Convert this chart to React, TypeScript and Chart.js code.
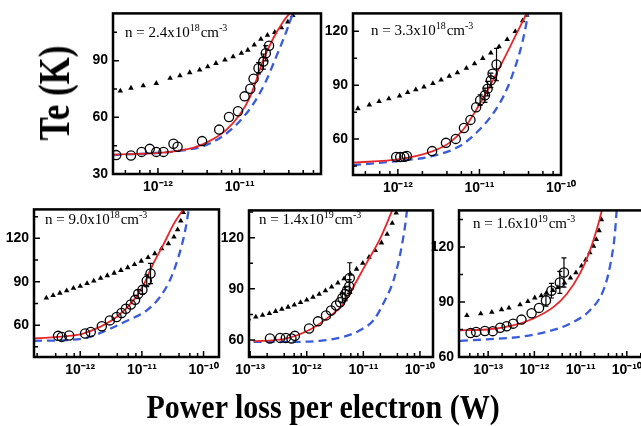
import React, { useEffect, useRef } from 'react';
import { Chart, registerables } from 'chart.js';
Chart.register(...registerables);

// ---------- Panel 1 : n = 2.4x10^18 ----------
const p1TriP = [3.47e-13, 4.68e-13, 6.61e-13, 9.55e-13, 1.41e-12, 1.86e-12, 2.45e-12, 3.24e-12, 4.07e-12, 5.13e-12, 6.61e-12, 8.32e-12, 1.05e-11, 1.26e-11, 1.51e-11, 1.82e-11, 2.19e-11, 2.69e-11, 3.24e-11, 3.89e-11, 4.47e-11];
const p1TriT = [74, 75.5, 76.8, 78, 80.7, 82, 83.7, 85.1, 86.8, 88.6, 90.4, 92.1, 93.9, 95.6, 98.3, 101.4, 103.5, 105, 107.5, 110.5, 114];
const p1CirP = [3.09e-13, 4.68e-13, 6.31e-13, 7.94e-13, 9.55e-13, 1.17e-12, 1.55e-12, 1.74e-12, 3.47e-12, 5.62e-12, 7.41e-12, 9.55e-12, 1.15e-11, 1.35e-11, 1.48e-11, 1.70e-11, 1.95e-11, 2.09e-11, 2.29e-11];
const p1CirT = [40.0, 39.8, 41.7, 43.3, 41.7, 41.7, 46.0, 44.4, 47.4, 53.5, 60.2, 63.2, 71.1, 75.1, 80.4, 86.0, 89.5, 93.9, 97.9];
const p1CirErr = [0, 0, 0, 0, 0, 0, 0, 0, 0, 0, 0, 0, 0, 0, 0, 3, 4, 4, 0];
const p1RedP = [2.82e-13, 1.05e-12, 2.69e-12, 4.27e-12, 6.92e-12, 1.0e-11, 1.32e-11, 1.58e-11, 1.91e-11, 2.57e-11, 3.39e-11, 4.07e-11];
const p1RedT = [40.3, 41.2, 43.8, 47.4, 53.5, 61.4, 70.2, 79, 89.5, 101.7, 110.5, 115];
const p1BluP = [2.82e-13, 1.70e-12, 3.55e-12, 5.75e-12, 9.12e-12, 1.45e-11, 2.09e-11, 2.75e-11, 3.72e-11, 4.47e-11];
const p1BluT = [40, 42.1, 44.7, 49.1, 56.1, 66.7, 79, 91.2, 105.3, 115];

// ---------- Panel 2 : n = 3.3x10^18 ----------
const p2TriP = [3.24e-13, 4.47e-13, 5.89e-13, 7.76e-13, 1.05e-12, 1.32e-12, 1.66e-12, 2.09e-12, 2.69e-12, 3.39e-12, 4.27e-12, 5.37e-12, 6.92e-12, 8.71e-12, 1.10e-11, 1.38e-11, 1.74e-11, 2.19e-11, 2.75e-11, 3.39e-11, 3.80e-11];
const p2TriT = [77, 79, 81, 82.5, 84, 86, 87.5, 89, 91, 93, 95, 97, 99.5, 102, 105, 108, 111.5, 115.5, 120, 126, 129];
const p2CirP = [9.55e-13, 1.07e-12, 1.20e-12, 1.29e-12, 2.63e-12, 3.89e-12, 5.13e-12, 6.46e-12, 7.76e-12, 9.12e-12, 1.02e-11, 1.17e-11, 1.26e-11, 1.38e-11, 1.45e-11, 1.62e-11];
const p2CirT = [50.0, 50.0, 50.2, 50.6, 53.3, 57.9, 60.1, 66.2, 70.7, 77.7, 81.7, 84.4, 88.1, 92.7, 96.4, 101.5];
const p2CirErr = [0, 0, 0, 0, 0, 0, 0, 0, 0, 0, 3, 4, 4, 4, 0, 9];
const p2RedP = [2.82e-13, 1.05e-12, 2.69e-12, 4.27e-12, 6.31e-12, 9.12e-12, 1.32e-11, 1.95e-11, 2.82e-11, 3.80e-11];
const p2RedT = [46.9, 48.8, 53.3, 57.9, 65.2, 76.2, 89, 103.7, 118.3, 130];
const p2BluP = [2.82e-13, 1.05e-12, 2.69e-12, 5.75e-12, 9.12e-12, 1.48e-11, 2.14e-11, 2.82e-11, 3.39e-11, 3.98e-11];
const p2BluT = [45.5, 47.9, 50.6, 56.1, 63.4, 74.4, 87.2, 101.8, 114.6, 130];

// ---------- Panel 3 : n = 9.0x10^18 ----------
const p3TriP = [2.82e-13, 3.63e-13, 4.68e-13, 6.03e-13, 7.76e-13, 1.0e-12, 1.29e-12, 1.66e-12, 2.14e-12, 2.75e-12, 3.55e-12, 4.57e-12, 5.89e-12, 7.59e-12, 9.77e-12, 1.26e-11, 1.62e-11, 2.09e-11, 2.69e-11, 3.31e-11, 3.80e-11, 4.27e-11, 4.68e-11];
const p3TriT = [78.8, 80.5, 82.2, 83.9, 85.5, 87, 88.9, 90.6, 92.5, 94.3, 96, 97.9, 99.8, 102, 104.3, 106.8, 109.5, 112.8, 116.3, 121, 126, 132, 138];
const p3CirP = [4.37e-13, 5.01e-13, 6.61e-13, 1.20e-12, 1.48e-12, 2.24e-12, 3.02e-12, 3.89e-12, 4.68e-12, 5.50e-12, 6.61e-12, 7.76e-12, 8.71e-12, 1.02e-11, 1.20e-11, 1.38e-11];
const p3CirT = [52.6, 51.9, 52.9, 54.2, 55.3, 59.2, 63.3, 65.6, 68.4, 71.3, 74.3, 77.5, 81.6, 84.4, 90.7, 95.7];
const p3CirErr = [0, 0, 0, 0, 0, 0, 0, 0, 0, 0, 0, 0, 3, 3, 4, 7];
const p3RedP = [1.78e-13, 6.03e-13, 1.12e-12, 2.09e-12, 3.89e-12, 7.24e-12, 1.05e-11, 1.51e-11, 2.24e-11, 3.24e-11, 4.68e-11];
const p3RedT = [50.8, 52.4, 54.2, 58.8, 65.6, 77.0, 87.3, 102.1, 115.8, 129.5, 140];
const p3BluP = [1.78e-13, 6.03e-13, 1.26e-12, 2.69e-12, 5.62e-12, 1.20e-11, 1.95e-11, 2.82e-11, 3.89e-11, 5.01e-11, 5.75e-11];
const p3BluT = [49.2, 49.7, 51.2, 56.5, 62.9, 70.2, 79.3, 90.7, 106.7, 124.9, 140];

// ---------- Panel 4 : n = 1.4x10^19 ----------
const p4TriP = [9.33e-14, 1.26e-13, 1.66e-13, 2.19e-13, 2.82e-13, 3.63e-13, 4.68e-13, 6.03e-13, 7.76e-13, 1.0e-12, 1.29e-12, 1.66e-12, 2.14e-12, 2.75e-12, 3.55e-12, 4.57e-12, 5.89e-12, 7.59e-12, 9.77e-12, 1.26e-11, 1.62e-11, 2.09e-11, 2.63e-11, 3.24e-11, 3.80e-11];
const p4TriT = [72.5, 73.5, 74.5, 75.6, 76.8, 78, 79.3, 80.5, 82, 83.5, 85.1, 86.9, 88.9, 91.1, 93.4, 95.9, 98.6, 101.6, 105, 108.6, 112.5, 117, 122, 128.5, 134.5];
const p4CirP = [2.24e-13, 3.39e-13, 4.27e-13, 5.37e-13, 6.17e-13, 1.10e-12, 1.58e-12, 2.19e-12, 2.69e-12, 3.31e-12, 3.89e-12, 4.27e-12, 4.79e-12, 5.13e-12, 5.62e-12, 5.75e-12];
const p4CirT = [60.9, 61.2, 61.2, 60.9, 62.4, 66.7, 70.9, 74.4, 77.3, 80.2, 82.1, 84.7, 87.0, 88.9, 91.4, 96.3];
const p4CirErr = [0, 0, 0, 0, 0, 0, 0, 0, 0, 0, 0, 3, 4, 0, 4, 9];
const p4RedP = [1.15e-13, 3.89e-13, 1.15e-12, 2.24e-12, 4.47e-12, 6.61e-12, 1.15e-11, 1.95e-11, 3.24e-11];
const p4RedT = [59.3, 60.5, 66.1, 72.5, 81.2, 90.9, 105.4, 119.0, 136];
const p4BluP = [1.15e-13, 5.75e-13, 1.70e-12, 4.47e-12, 8.71e-12, 1.51e-11, 2.24e-11, 3.39e-11, 4.47e-11, 5.50e-11, 5.89e-11];
const p4BluT = [58.9, 58.9, 59.5, 61.8, 65.7, 71.5, 81.2, 94.7, 110.3, 127.7, 136];

// ---------- Panel 5 : n = 1.6x10^19 ----------
const p5TriP = [3.47e-14, 6.92e-14, 1.20e-13, 1.95e-13, 2.82e-13, 4.90e-13, 7.24e-13, 1.02e-12, 1.41e-12, 1.82e-12, 2.51e-12, 3.24e-12, 4.47e-12, 6.03e-12, 7.94e-12, 1.05e-11, 1.29e-11, 1.58e-11, 1.91e-11, 2.19e-11, 2.51e-11, 2.82e-11];
const p5TriT = [82.7, 83.6, 84.5, 85.9, 86.8, 88.5, 90.3, 92.3, 93.5, 95, 96.3, 98, 100.5, 103.1, 106, 109.7, 113, 116.9, 120.5, 124.2, 129, 135];
const p5CirP = [4.17e-14, 5.50e-14, 8.51e-14, 1.26e-13, 1.82e-13, 2.51e-13, 3.47e-13, 5.25e-13, 8.71e-13, 1.26e-12, 1.78e-12, 2.34e-12, 3.55e-12, 4.37e-12];
const p5CirT = [73.1, 73.7, 74.2, 74.1, 76.0, 76.8, 78.2, 80.4, 83.9, 86.8, 90.8, 96.2, 100.7, 106.1];
const p5CirErr = [0, 0, 0, 0, 0, 0, 0, 0, 0, 0, 3, 4, 6, 8];
const p5RedP = [2.45e-14, 9.33e-14, 3.47e-13, 9.33e-13, 2.57e-12, 5.01e-12, 9.55e-12, 1.58e-11, 2.40e-11, 2.88e-11];
const p5RedT = [74.6, 75.0, 77.3, 80.9, 87.2, 94.4, 105.2, 117.8, 132.3, 140];
const p5BluP = [2.45e-14, 9.33e-14, 4.90e-13, 1.82e-12, 5.89e-12, 1.58e-11, 3.09e-11, 4.27e-11, 5.50e-11, 6.03e-11];
const p5BluT = [68.8, 69.6, 71.0, 73.7, 78.2, 85.4, 96.2, 108.8, 126.9, 140];

// axis ranges and labels
const xRanges = [[2.82e-13, 9.9e-11], [2.82e-13, 1.0e-10], [1.78e-13, 1.78e-10], [9.55e-14, 1.70e-10], [2.34e-14, 2.24e-10]];
const yRanges = [[30, 115], [40, 130], [38, 140], [50, 136], [60, 140]];
const densityMant = ['2.4', '3.3', '9.0', '1.4', '1.6'];
const densityExp = ['18', '18', '18', '19', '19'];

const RED = '#e8262a';
const BLUE = '#3a5bdc';
const AX_W = 45, PAD_T = 12, PAD_R = 26, AX_H = 32;

const SUP: Record<string, string> = { '-': '\u207B', '0': '\u2070', '1': '\u00B9', '2': '\u00B2', '3': '\u00B3', '4': '\u2074', '5': '\u2075', '6': '\u2076', '7': '\u2077', '8': '\u2078', '9': '\u2079' };
const sup = (s: string) => s.split('').map((c) => SUP[c] ?? c).join('');
const toXY = (xs: number[], ys: number[]) => xs.map((x, i) => ({ x, y: ys[i] }));

interface PanelDef {
  box: number[]; // plot-area left, top, right, bottom (layout only)
  idx: number;
  text: number[]; // annotation offset inside plot
  triP: number[]; triT: number[];
  cirP: number[]; cirT: number[]; cirErr: number[];
  redP: number[]; redT: number[];
  bluP: number[]; bluT: number[];
}

const panels: PanelDef[] = [
  { box: [113, 12, 321, 174], idx: 0, text: [12, 24], triP: p1TriP, triT: p1TriT, cirP: p1CirP, cirT: p1CirT, cirErr: p1CirErr, redP: p1RedP, redT: p1RedT, bluP: p1BluP, bluT: p1BluT },
  { box: [353, 12, 561, 175], idx: 1, text: [18, 22], triP: p2TriP, triT: p2TriT, cirP: p2CirP, cirT: p2CirT, cirErr: p2CirErr, redP: p2RedP, redT: p2RedT, bluP: p2BluP, bluT: p2BluT },
  { box: [34, 208, 219, 357], idx: 2, text: [11, 15], triP: p3TriP, triT: p3TriT, cirP: p3CirP, cirT: p3CirT, cirErr: p3CirErr, redP: p3RedP, redT: p3RedT, bluP: p3BluP, bluT: p3BluT },
  { box: [249, 209, 433, 357], idx: 3, text: [10, 14], triP: p4TriP, triT: p4TriT, cirP: p4CirP, cirT: p4CirT, cirErr: p4CirErr, redP: p4RedP, redT: p4RedT, bluP: p4BluP, bluT: p4BluT },
  { box: [459, 209, 643, 357], idx: 4, text: [14, 18], triP: p5TriP, triT: p5TriT, cirP: p5CirP, cirT: p5CirT, cirErr: p5CirErr, redP: p5RedP, redT: p5RedT, bluP: p5BluP, bluT: p5BluT },
];

const isDecade = (v: number) => {
  const lg = Math.log10(v);
  return Math.abs(lg - Math.round(lg)) < 1e-6;
};

function logTicks(min: number, max: number) {
  const out: { value: number }[] = [];
  const e0 = Math.floor(Math.log10(min)) - 1;
  const e1 = Math.ceil(Math.log10(max)) + 1;
  for (let e = e0; e <= e1; e++) {
    for (const m of [1, 2, 4, 6, 8]) {
      const v = parseFloat(m + 'e' + e);
      if (v >= min * (1 - 1e-9) && v <= max * (1 + 1e-9)) out.push({ value: v });
    }
  }
  return out;
}

function linTicks(min: number, max: number) {
  const out: { value: number }[] = [];
  for (let v = Math.ceil(min / 15) * 15; v <= max + 1e-9; v += 15) out.push({ value: v });
  return out;
}

function makeFramePlugin(def: PanelDef) {
  return {
    id: 'frame' + def.idx,
    afterDatasetsDraw(chart: any) {
      const { ctx, chartArea: a } = chart;
      const xs = chart.scales.x, ys = chart.scales.y;
      ctx.save();
      ctx.beginPath();
      ctx.rect(a.left, a.top, a.right - a.left, a.bottom - a.top);
      ctx.clip();
      ctx.strokeStyle = '#000';
      ctx.lineWidth = 1.2;
      def.cirP.forEach((p, i) => {
        const e = def.cirErr[i];
        if (!e) return;
        const px = xs.getPixelForValue(p);
        const y1 = ys.getPixelForValue(def.cirT[i] + e);
        const y2 = ys.getPixelForValue(def.cirT[i] - e);
        ctx.beginPath();
        ctx.moveTo(px, y1); ctx.lineTo(px, y2);
        ctx.moveTo(px - 2.5, y1); ctx.lineTo(px + 2.5, y1);
        ctx.moveTo(px - 2.5, y2); ctx.lineTo(px + 2.5, y2);
        ctx.stroke();
      });
      ctx.restore();
    },
    afterDraw(chart: any) {
      const { ctx, chartArea: a } = chart;
      const xs = chart.scales.x, ys = chart.scales.y;
      ctx.save();
      ctx.strokeStyle = '#000';
      ctx.lineWidth = 1.5;
      ctx.beginPath();
      xs.ticks.forEach((t: any) => {
        const px = xs.getPixelForValue(t.value);
        const len = isDecade(t.value) ? 6 : 4;
        ctx.moveTo(px, a.bottom); ctx.lineTo(px, a.bottom - len);
      });
      ys.ticks.forEach((t: any) => {
        const py = ys.getPixelForValue(t.value);
        const len = t.value % 30 === 0 ? 6 : 4;
        ctx.moveTo(a.left, py); ctx.lineTo(a.left + len, py);
      });
      ctx.stroke();
      ctx.lineWidth = 2.5;
      ctx.strokeRect(a.left, a.top, a.right - a.left, a.bottom - a.top);
      // density annotation
      const serif = '"Liberation Serif", "Times New Roman", serif';
      let x = a.left + def.text[0];
      const y = a.top + def.text[1];
      ctx.fillStyle = '#000';
      ctx.textBaseline = 'alphabetic';
      ctx.textAlign = 'left';
      ctx.font = '15px ' + serif;
      const s1 = 'n = ' + densityMant[def.idx] + 'x10';
      ctx.fillText(s1, x, y);
      x += ctx.measureText(s1).width;
      ctx.font = '10px ' + serif;
      ctx.fillText(densityExp[def.idx], x, y - 6);
      x += ctx.measureText(densityExp[def.idx]).width + 1;
      ctx.font = '15px ' + serif;
      ctx.fillText('cm', x, y);
      x += ctx.measureText('cm').width;
      ctx.font = '10px ' + serif;
      ctx.fillText('-3', x, y - 6);
      ctx.restore();
    },
  };
}

function Panel({ def }: { def: PanelDef }) {
  const ref = useRef<HTMLCanvasElement>(null);
  const [L, T, R, B] = def.box;
  const W = AX_W + (R - L) + PAD_R;
  const H = PAD_T + (B - T) + AX_H;
  useEffect(() => {
    if (!ref.current) return;
    const [xMin, xMax] = xRanges[def.idx];
    const [yMin, yMax] = yRanges[def.idx];
    const tickFont = { family: '"Liberation Sans", Arial, sans-serif', size: 14, weight: 'bold' as const };
    const chart = new Chart(ref.current, {
      type: 'scatter',
      data: {
        datasets: [
          {
            label: 'experiment',
            data: toXY(def.cirP, def.cirT),
            pointStyle: 'circle',
            pointRadius: 4.6,
            backgroundColor: 'rgba(0,0,0,0)',
            borderColor: '#000',
            borderWidth: 1.3,
          },
          {
            label: 'model',
            data: toXY(def.redP, def.redT),
            showLine: true,
            pointRadius: 0,
            borderColor: RED,
            borderWidth: 1.8,
            cubicInterpolationMode: 'monotone',
          },
          {
            label: 'model 2',
            data: toXY(def.bluP, def.bluT),
            showLine: true,
            pointRadius: 0,
            borderColor: BLUE,
            borderWidth: 2.3,
            borderDash: [8, 5],
            cubicInterpolationMode: 'monotone',
          },
          {
            label: 'model 3',
            data: toXY(def.triP, def.triT),
            pointStyle: 'triangle',
            pointRadius: 3.2,
            backgroundColor: '#000',
            borderColor: '#000',
            borderWidth: 0,
          },
        ],
      } as any,
      options: {
        animation: false,
        responsive: false,
        maintainAspectRatio: false,
        events: [],
        layout: { padding: { left: 0, top: PAD_T, right: PAD_R, bottom: 0 } },
        plugins: { legend: { display: false }, tooltip: { enabled: false } },
        scales: {
          x: {
            type: 'logarithmic',
            bounds: 'data',
            min: xMin,
            max: xMax,
            grid: { display: false, drawTicks: false },
            border: { display: false },
            ticks: {
              autoSkip: false,
              maxRotation: 0,
              minRotation: 0,
              padding: 5,
              color: '#000',
              font: tickFont,
              callback: (v: any) => {
                const n = Number(v);
                return isDecade(n) ? '10' + sup(String(Math.round(Math.log10(n)))) : '';
              },
            },
            afterBuildTicks: (s: any) => { s.ticks = logTicks(xMin, xMax); },
            afterFit: (s: any) => { s.height = AX_H; },
          },
          y: {
            type: 'linear',
            bounds: 'data',
            min: yMin,
            max: yMax,
            grid: { display: false, drawTicks: false },
            border: { display: false },
            ticks: {
              autoSkip: false,
              padding: 5,
              color: '#000',
              font: tickFont,
              callback: (v: any) => (Number(v) % 30 === 0 ? String(v) : ''),
            },
            afterBuildTicks: (s: any) => { s.ticks = linTicks(yMin, yMax); },
            afterFit: (s: any) => { s.width = AX_W; },
          },
        },
      } as any,
      plugins: [makeFramePlugin(def)],
    });
    return () => chart.destroy();
  }, [def]);
  return (
    <canvas
      ref={ref}
      width={W}
      height={H}
      style={{ position: 'absolute', left: L - AX_W, top: T - PAD_T, width: W, height: H }}
    />
  );
}

export default function App() {
  const serif = '"Liberation Serif", "Times New Roman", serif';
  return (
    <div style={{ position: 'fixed', left: 0, top: 0, width: 641, height: 426, overflow: 'hidden', background: '#fff' }}>
      {panels.map((d) => (
        <Panel key={d.idx} def={d} />
      ))}
      <div
        style={{
          position: 'absolute', left: 55, top: 93, transform: 'translate(-50%, -50%) rotate(-90deg) scaleY(1.25)',
          font: 'bold 35px ' + serif, whiteSpace: 'nowrap', color: '#000', lineHeight: '38px',
        }}
      >
        Te (K)
      </div>
      <div
        style={{
          position: 'absolute', left: 323, top: 406, transform: 'translate(-50%, -50%) scaleY(1.15)',
          font: 'bold 30px ' + serif, whiteSpace: 'nowrap', color: '#000', lineHeight: '34px',
        }}
      >
        Power loss per electron (W)
      </div>
    </div>
  );
}
